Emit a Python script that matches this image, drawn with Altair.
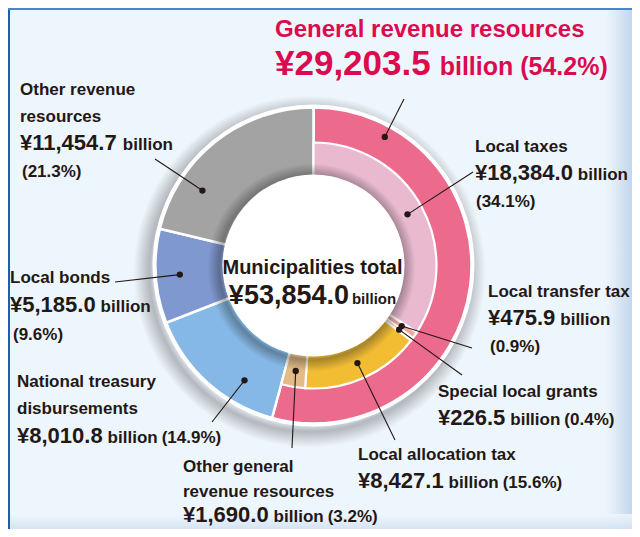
import math
import altair as alt
import pandas as pd

# ---------------- data ----------------
total_name = "Municipalities total"
group_name = "General revenue resources"
group_pct = "54.2%"

general_items = ["Local taxes", "Local transfer tax", "Special local grants",
                 "Local allocation tax", "Other general revenue resources"]
general_values = [18384.0, 475.9, 226.5, 8427.1, 1690.0]
general_pcts = ["34.1%", "0.9%", "0.4%", "15.6%", "3.2%"]

other_items = ["National treasury disbursements", "Local bonds", "Other revenue resources"]
other_values = [8010.8, 5185.0, 11454.7]
other_pcts = ["14.9%", "9.6%", "21.3%"]

gen_total = round(sum(general_values), 1)
grand_total = round(gen_total + sum(other_values), 1)

# ---------------- styles / layout ----------------
W, H = 624, 521
OFF = 8                      # page margin: reference px -> chart px
CX, CY = 313.5 - OFF, 265.5 - OFF
R_HOLE, R_MID, R_OUT = 91, 123, 158
INK = "#231815"
RED = "#DC0A4F"
FONT = "'Liberation Sans', Arial, sans-serif"
S_NAME, S_NUM, S_UNIT = 17, 22, 17

cat_colors = {
    group_name: "#EC6A8B",
    "Local taxes": "#E9B9CF",
    "Local transfer tax": "#F2A7A0",
    "Special local grants": "#EE8B3C",
    "Local allocation tax": "#F2BD33",
    "Other general revenue resources": "#E3BB86",
    "National treasury disbursements": "#85B8E6",
    "Local bonds": "#7F98CF",
    "Other revenue resources": "#A3A3A3",
}
color_enc = alt.Color("cat:N", legend=None,
                      scale=alt.Scale(domain=list(cat_colors.keys()),
                                      range=list(cat_colors.values())))
theta_scale = alt.Scale(domain=[0, grand_total])

def fmt(v):
    return f"\u00a5{v:,.1f}"

# approximate advance widths of Liberation Sans Bold (em units), for chaining texts
_AW = {ch: 0.556 for ch in "0123456789\u00a5"}
_AW.update({",": 0.278, ".": 0.278, " ": 0.278, "(": 0.333, ")": 0.333, "%": 0.889,
            "b": 0.611, "i": 0.278, "l": 0.278, "o": 0.611, "n": 0.611})

def tw(s, size):
    return sum(_AW.get(ch, 0.556) for ch in s) * size

one = pd.DataFrame({"k": [0]})
FULL = 2 * math.pi

# ---------------- background decoration ----------------
right_edge = alt.Chart(one).mark_rect(
    fill=alt.LinearGradient(gradient="linear", x1=0, y1=0, x2=1, y2=0,
                            stops=[alt.GradientStop(color="#EEF6FD", offset=0),
                                   alt.GradientStop(color="#C3D6EC", offset=1)])
).encode(x=alt.value(598), x2=alt.value(W), y=alt.value(0), y2=alt.value(H))

bottom_edge = alt.Chart(one).mark_rect(
    fill=alt.LinearGradient(gradient="linear", x1=0, y1=0, x2=0, y2=1,
                            stops=[alt.GradientStop(color="#EEF6FD", offset=0),
                                   alt.GradientStop(color="#D3E2F2", offset=1)]),
    opacity=0.9
).encode(x=alt.value(0), x2=alt.value(W), y=alt.value(506), y2=alt.value(H))

left_line = alt.Chart(one).mark_rect(fill="#1E5DB6").encode(
    x=alt.value(0), x2=alt.value(2), y=alt.value(0), y2=alt.value(H))
top_line = alt.Chart(one).mark_rect(fill="#4A84CF").encode(
    x=alt.value(0), x2=alt.value(W), y=alt.value(0), y2=alt.value(2))

def radial(stops):
    return alt.RadialGradient(gradient="radial", x1=0.5, y1=0.5, r1=0,
                              x2=0.5, y2=0.5, r2=0.5,
                              stops=[alt.GradientStop(offset=o, color=c) for o, c in stops])

outer_shadow = alt.Chart(one).mark_arc(
    theta=0, theta2=FULL, innerRadius=0, outerRadius=176,
    fill=radial([(0, "rgba(0,0,0,0)"), (0.86, "rgba(0,0,0,0)"),
                 (0.91, "rgba(40,40,40,0.30)"), (1.0, "rgba(40,40,40,0)")])
).encode(x=alt.value(CX - 4), y=alt.value(CY + 6))

# ---------------- rings ----------------
outer_df = pd.DataFrame({"cat": [group_name] + other_items,
                         "value": [gen_total] + other_values,
                         "idx": list(range(1 + len(other_items)))})
inner_df = pd.DataFrame({"cat": general_items, "value": general_values,
                         "idx": list(range(len(general_items)))})

outer_ring = alt.Chart(outer_df).mark_arc(
    innerRadius=R_HOLE - 4, outerRadius=R_OUT, stroke="white", strokeWidth=2.5
).encode(theta=alt.Theta("value:Q", stack=True, scale=theta_scale),
         order=alt.Order("idx:Q", sort="ascending"),
         color=color_enc, x=alt.value(CX), y=alt.value(CY))

white_border = alt.Chart(one).mark_arc(
    theta=0, theta2=FULL, innerRadius=R_OUT - 0.5, outerRadius=R_OUT + 3, fill="white"
).encode(x=alt.value(CX), y=alt.value(CY))

inner_ring = alt.Chart(inner_df).mark_arc(
    innerRadius=R_HOLE - 4, outerRadius=R_MID, stroke="white", strokeWidth=2.2
).encode(theta=alt.Theta("value:Q", stack=True, scale=theta_scale),
         order=alt.Order("idx:Q", sort="ascending"),
         color=color_enc, x=alt.value(CX), y=alt.value(CY))

hole_shadow = alt.Chart(one).mark_arc(
    theta=0, theta2=FULL, innerRadius=0, outerRadius=104,
    fill=radial([(0, "rgba(0,0,0,0)"), (0.84, "rgba(0,0,0,0)"),
                 (0.885, "rgba(30,30,30,0.36)"), (1.0, "rgba(30,30,30,0)")])
).encode(x=alt.value(CX - 2), y=alt.value(CY + 2))

hole = alt.Chart(one).mark_arc(
    theta=0, theta2=FULL, innerRadius=0, outerRadius=R_HOLE, fill="white"
).encode(x=alt.value(CX), y=alt.value(CY))

# ---------------- leader lines and dots ----------------
angles = {}
cum = 0.0
for name, v in zip(general_items, general_values):
    angles[name] = (cum + v / 2) / grand_total * 360
    cum += v
for name, v in zip(other_items, other_values):
    angles[name] = (cum + v / 2) / grand_total * 360
    cum += v
angles[group_name] = 29
angles["National treasury disbursements"] = 211
angles["Other revenue resources"] = 304

dot_r = {n: 107 for n in general_items}
dot_r.update({n: 134 for n in other_items})
dot_r[group_name] = 147

leader_end = {
    group_name: (404, 99),
    "Local taxes": (473, 172),
    "Local transfer tax": (472, 348),
    "Special local grants": (462, 375),
    "Local allocation tax": (395, 440),
    "Other general revenue resources": (292, 448),
    "National treasury disbursements": (212, 422),
    "Local bonds": (115, 282),
    "Other revenue resources": (155, 159),
}

rows = []
for name, (ex, ey) in leader_end.items():
    a = math.radians(angles[name])
    dx = CX + dot_r[name] * math.sin(a)
    dy = CY - dot_r[name] * math.cos(a)
    rows.append({"cat": name, "x": dx, "y": dy, "x2": ex - OFF, "y2": ey - OFF})
lead_df = pd.DataFrame(rows)

leaders = alt.Chart(lead_df).mark_rule(color=INK, strokeWidth=1.1).encode(
    x=alt.X("x:Q", scale=None, axis=None), y=alt.Y("y:Q", scale=None, axis=None),
    x2="x2:Q", y2="y2:Q")
dots = alt.Chart(lead_df).mark_circle(color=INK, opacity=1, size=40).encode(
    x=alt.X("x:Q", scale=None, axis=None), y=alt.Y("y:Q", scale=None, axis=None))

# ---------------- texts ----------------
texts = []
def T(s, x, y, size, color=INK):
    texts.append({"t": s, "x": x - OFF, "y": y - OFF, "s": size, "c": color})
    return x + tw(s, size)

def pct(p):
    return f"({p})"

def value_line(v, x, y, p=None, gap=5):
    end = T(fmt(v), x, y, S_NUM)
    end = T("billion", end + gap, y, S_UNIT)
    if p is not None:
        T(pct(p), end + 4, y, S_UNIT)

# title
end = T(group_name, 275, 37, 24, RED)
end = T(fmt(gen_total), 275, 75, 35, RED)
T(f"billion ({group_pct})", end + 9, 75, 25, RED)

# other revenue resources
T("Other revenue", 20, 95, S_NAME); T("resources", 20, 122, S_NAME)
value_line(other_values[2], 20, 150)
T(pct(other_pcts[2]), 22, 177, S_UNIT)
# local bonds
T("Local bonds", 10, 283, S_NAME)
value_line(other_values[1], 10, 312)
T(pct(other_pcts[1]), 13, 340, S_UNIT)
# national treasury
T("National treasury", 17, 387, S_NAME); T("disbursements", 17, 414, S_NAME)
value_line(other_values[0], 17, 443, other_pcts[0])
# local taxes
T(general_items[0], 475, 152, S_NAME)
value_line(general_values[0], 475, 180)
T(pct(general_pcts[0]), 476, 207, S_UNIT)
# local transfer tax
T(general_items[1], 488, 297, S_NAME)
value_line(general_values[1], 488, 325)
T(pct(general_pcts[1]), 490, 352, S_UNIT)
# special local grants
T(general_items[2], 438, 397, S_NAME)
value_line(general_values[2], 438, 425, general_pcts[2])
# local allocation tax
T(general_items[3], 358, 460, S_NAME)
value_line(general_values[3], 358, 488, general_pcts[3])
# other general revenue resources
T("Other general", 183, 472, S_NAME); T("revenue resources", 183, 497, S_NAME)
value_line(general_values[4], 183, 522, general_pcts[4])
# centre
cw = tw(fmt(grand_total), 27) + 3 + tw("billion", 15)
end = T(fmt(grand_total), 312.5 - cw / 2, 304, 27)
T("billion", end + 3, 304, 15)

text_df = pd.DataFrame(texts)
labels = alt.Chart(text_df).mark_text(
    font=FONT, fontWeight="bold", align="left", baseline="alphabetic"
).encode(x=alt.X("x:Q", scale=None, axis=None), y=alt.Y("y:Q", scale=None, axis=None),
         text="t:N", size=alt.Size("s:Q", scale=None, legend=None),
         color=alt.Color("c:N", scale=None, legend=None))

centre_title = alt.Chart(pd.DataFrame({"t": [total_name]})).mark_text(
    font=FONT, fontWeight="bold", align="center", baseline="alphabetic",
    fontSize=20, color=INK
).encode(x=alt.value(312.5 - OFF), y=alt.value(274 - OFF), text="t:N")

chart = alt.layer(
    right_edge, bottom_edge, left_line, top_line,
    outer_shadow, outer_ring, white_border, inner_ring, hole_shadow, hole,
    leaders, dots, labels, centre_title
).properties(
    width=W, height=H, background="#EEF6FD", padding=0, autosize="none"
).configure_view(stroke=None)

chart.save("out.html", embed_options={"renderer": "svg", "actions": False})
